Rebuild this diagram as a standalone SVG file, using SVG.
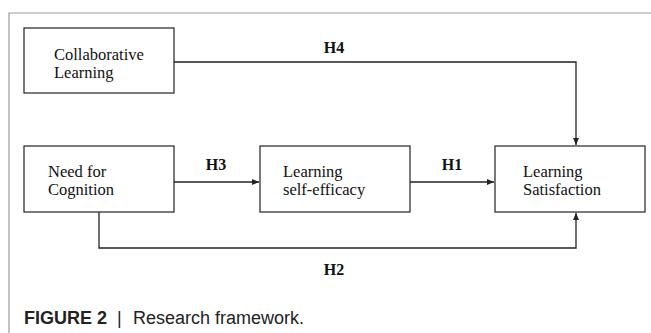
<svg xmlns="http://www.w3.org/2000/svg" width="651" height="333" viewBox="0 0 651 333">
<defs>
<marker id="arr" markerWidth="7" markerHeight="6" refX="7" refY="3" orient="auto" markerUnits="userSpaceOnUse">
<path d="M0,0 L7,3 L0,6 Z" fill="#222"/>
</marker>
<style>
.box{fill:#fff;stroke:#222;stroke-width:1.2}
.lbl{font-family:"Liberation Serif","Times New Roman",serif;font-size:16.5px;fill:#111}
.h{font-family:"Liberation Serif","Times New Roman",serif;font-size:16px;font-weight:bold;fill:#111;text-anchor:middle}
.con{fill:none;stroke:#222;stroke-width:1.3}
.cap{font-family:"Liberation Sans",Arial,sans-serif;font-size:18px;fill:#222}
</style>
</defs>
<rect width="651" height="333" fill="#fff"/>
<path d="M651,13 H9 V333" fill="none" stroke="#999" stroke-width="1.2"/>
<g id="connectors">
<path class="con" d="M174,62 H576 V145" marker-end="url(#arr)"/>
<path class="con" d="M174,182 H259" marker-end="url(#arr)"/>
<path class="con" d="M410,182 H494" marker-end="url(#arr)"/>
<path class="con" d="M99,212 V248 H576 V213" marker-end="url(#arr)"/>
<text class="h" x="334" y="53">H4</text>
<text class="h" x="216" y="170">H3</text>
<text class="h" x="452" y="170">H1</text>
<text class="h" x="334" y="275">H2</text>
</g>
<g id="collaborative-learning">
<rect class="box" x="24" y="28" width="150" height="65"/>
<text class="lbl" x="54" y="60">Collaborative</text>
<text class="lbl" x="54" y="78">Learning</text>
</g>
<g id="need-for-cognition">
<rect class="box" x="24" y="146" width="150" height="66"/>
<text class="lbl" x="48" y="177">Need for</text>
<text class="lbl" x="48" y="195">Cognition</text>
</g>
<g id="learning-self-efficacy">
<rect class="box" x="260" y="146" width="150" height="66"/>
<text class="lbl" x="283" y="177">Learning</text>
<text class="lbl" x="283" y="195">self-efficacy</text>
</g>
<g id="learning-satisfaction">
<rect class="box" x="495" y="146" width="150" height="66"/>
<text class="lbl" x="523" y="177">Learning</text>
<text class="lbl" x="523" y="195">Satisfaction</text>
</g>
<text class="cap" x="24" y="324"><tspan font-weight="bold">FIGURE 2</tspan><tspan x="117">|</tspan><tspan x="133">Research framework.</tspan></text>
</svg>
